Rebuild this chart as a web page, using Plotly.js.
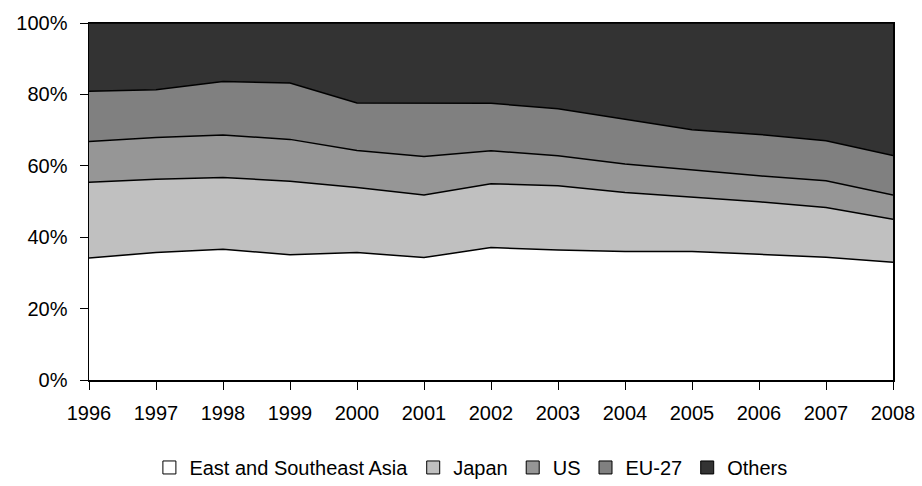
<!DOCTYPE html>
<html>
<head>
<meta charset="utf-8">
<script src="https://cdn.plot.ly/plotly-3.0.1.min.js"></script>
<style>html,body{margin:0;padding:0;background:#fff;}#chart{width:922px;height:486px;}</style>
</head>
<body>
<div id="chart"></div>
<script>
var years = [1996, 1997, 1998, 1999, 2000, 2001, 2002, 2003, 2004, 2005, 2006, 2007, 2008];
var eastSoutheastAsia = [34.2, 35.7, 36.6, 35.1, 35.7, 34.3, 37.1, 36.4, 36.0, 36.0, 35.2, 34.4, 33.0];
var japan = [21.2, 20.5, 20.1, 20.6, 18.2, 17.5, 17.9, 18.0, 16.5, 15.2, 14.7, 13.9, 12.0];
var us = [11.4, 11.7, 11.9, 11.7, 10.4, 10.8, 9.2, 8.4, 8.0, 7.6, 7.3, 7.5, 6.8];
var eu27 = [14.1, 13.4, 15.0, 15.8, 13.3, 15.0, 13.3, 13.2, 12.6, 11.3, 11.6, 11.2, 11.1];
var others = [19.1, 18.7, 16.4, 16.8, 22.4, 22.4, 22.5, 24.0, 26.9, 29.9, 31.2, 33.0, 37.1];
var seriesNames = ["East and Southeast Asia", "Japan", "US", "EU-27", "Others"];
var seriesColors = ["#ffffff", "#c0c0c0", "#969696", "#808080", "#333333"];
var seriesValues = [eastSoutheastAsia, japan, us, eu27, others];
var yTickVals = [0, 20, 40, 60, 80, 100];

var traces = seriesValues.map(function (vals, i) {
  return {
    type: "scatter",
    mode: "lines",
    x: years,
    y: vals,
    name: seriesNames[i],
    stackgroup: "one",
    fillcolor: seriesColors[i],
    line: {color: "#000000", width: 1.5, shape: "linear"},
    showlegend: false,
    hoverinfo: "skip"
  };
});

// legend-only entries with square swatches
seriesNames.forEach(function (name, i) {
  traces.push({
    type: "scatter",
    mode: "markers",
    x: [null],
    y: [null],
    name: name,
    showlegend: true,
    marker: {symbol: "square", size: 13, color: seriesColors[i], line: {color: "#000000", width: 1}},
    hoverinfo: "skip"
  });
});

var font = {family: "Liberation Sans, Arial, sans-serif", size: 20, color: "#000000"};

var layout = {
  width: 922,
  height: 486,
  margin: {l: 89, r: 29, t: 23, b: 106, autoexpand: false},
  paper_bgcolor: "#ffffff",
  plot_bgcolor: "#ffffff",
  font: font,
  showlegend: true,
  legend: {
    orientation: "h",
    x: 0.475,
    xanchor: "center",
    y: -0.245,
    yanchor: "middle",
    font: font,
    itemwidth: 30,
    tracegroupgap: 0,
    traceorder: "normal"
  },
  xaxis: {
    range: [1996, 2008],
    tickmode: "array",
    tickvals: years,
    ticktext: years.map(String),
    ticks: "outside",
    ticklen: 8,
    tickcolor: "#000000",
    ticklabelstandoff: 6,
    showline: true,
    linecolor: "#000000",
    linewidth: 1.5,
    mirror: true,
    showgrid: false,
    zeroline: false,
    tickfont: font,
    automargin: false,
    fixedrange: true
  },
  yaxis: {
    range: [0, 100],
    tickmode: "array",
    tickvals: yTickVals,
    ticktext: yTickVals.map(function (v) { return v + "%"; }),
    ticks: "outside",
    ticklen: 8,
    tickcolor: "#000000",
    ticklabelstandoff: 8,
    showline: true,
    linecolor: "#000000",
    linewidth: 1.5,
    mirror: true,
    showgrid: false,
    zeroline: false,
    tickfont: font,
    automargin: false,
    fixedrange: true
  }
};

Plotly.newPlot("chart", traces, layout, {displayModeBar: false, staticPlot: true});
</script>
</body>
</html>
